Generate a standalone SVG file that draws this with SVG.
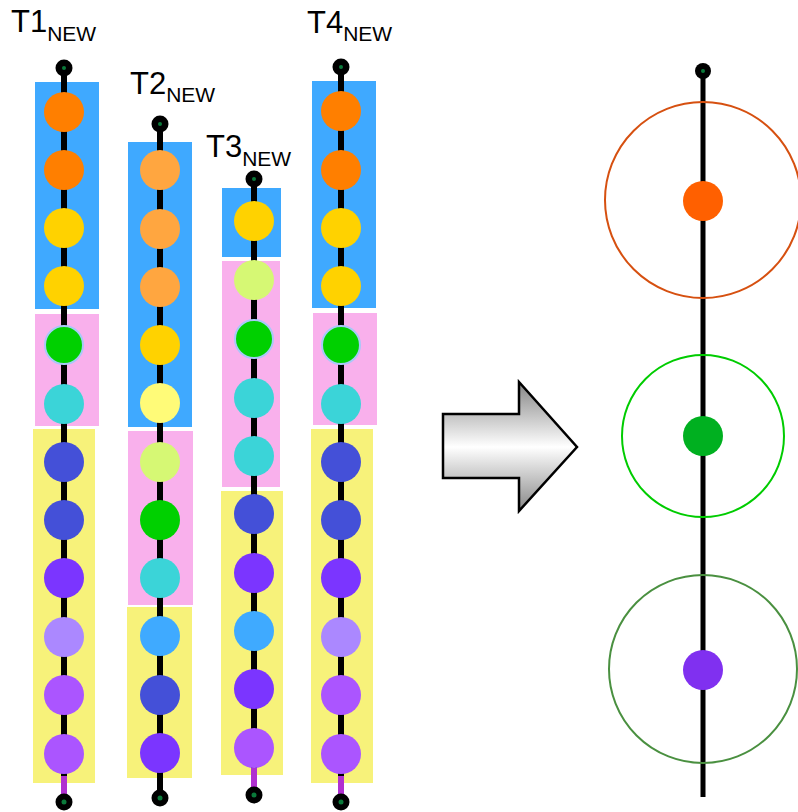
<svg xmlns="http://www.w3.org/2000/svg" width="798" height="812" viewBox="0 0 798 812">
<defs>
<style>
.lbl{font-family:"Liberation Sans",Arial,sans-serif;font-size:31px;fill:#000}
.sub{font-size:21px}
.stem{stroke:#000;stroke-width:6;fill:none}
.tail{stroke:#b030d0;stroke-width:6;fill:none}
.blue{fill:#3fa9ff}.pink{fill:#f9b0ec}.yel{fill:#f7f27a}
.end{fill:#000}.endc{fill:#0a7a3a}
.c-or{fill:#ff7f00}.c-lo{fill:#ffa640}.c-y{fill:#ffd200}.c-ly{fill:#fffb78}
.c-li{fill:#d6f874}.c-g{fill:#00d000;stroke:#a8c8f8;stroke-width:2}.c-g2{fill:#00d000}.c-cy{fill:#3bd4d8}
.c-db{fill:#4450d8}.c-p{fill:#7b35ff}.c-lv{fill:#ab88ff}.c-mp{fill:#ab55ff}.c-lb{fill:#3faaff}
</style>
<linearGradient id="ag" gradientUnits="userSpaceOnUse" x1="0" y1="382" x2="0" y2="512">
<stop offset="0" stop-color="#858585"/><stop offset="0.5" stop-color="#ffffff"/><stop offset="1" stop-color="#858585"/>
</linearGradient>
</defs>
<g id="labels">
<text class="lbl" x="11" y="32">T1<tspan class="sub" dy="8.5">NEW</tspan></text>
<text class="lbl" x="130" y="94">T2<tspan class="sub" dy="8">NEW</tspan></text>
<text class="lbl" x="206" y="157">T3<tspan class="sub" dy="8.5">NEW</tspan></text>
<text class="lbl" x="307" y="33">T4<tspan class="sub" dy="8">NEW</tspan></text>
</g>
<g id="backgrounds">
<rect class="blue" x="35" y="82" width="64" height="227"/>
<rect class="pink" x="35" y="314" width="64" height="112"/>
<rect class="yel" x="33" y="429" width="62" height="354"/>
<rect class="blue" x="128" y="142" width="64" height="285"/>
<rect class="pink" x="128" y="431" width="65" height="174"/>
<rect class="yel" x="127" y="607" width="65" height="171"/>
<rect class="blue" x="222" y="188" width="59" height="69"/>
<rect class="pink" x="222" y="261" width="58" height="226"/>
<rect class="yel" x="221" y="491" width="62" height="284"/>
<rect class="blue" x="312" y="81" width="64" height="227"/>
<rect class="pink" x="313" y="313" width="64" height="112"/>
<rect class="yel" x="311" y="429" width="62" height="354"/>
</g>
<g id="connectors">
<line class="stem" x1="64" y1="68" x2="64" y2="776"/>
<line class="tail" x1="64" y1="776" x2="64" y2="794"/>
<line class="stem" x1="160" y1="124" x2="160" y2="798"/>
<line class="stem" x1="254" y1="179" x2="254" y2="768"/>
<line class="tail" x1="254" y1="768" x2="254" y2="787"/>
<line class="stem" x1="341" y1="67" x2="341" y2="776"/>
<line class="tail" x1="341" y1="776" x2="341" y2="794"/>
<line x1="703" y1="71" x2="703" y2="797" stroke="#000" stroke-width="5"/>
</g>
<g id="T1">
<circle class="end" cx="64" cy="68" r="8.5"/><circle class="endc" cx="64" cy="68" r="2"/>
<circle class="c-or" cx="64" cy="112" r="20"/>
<circle class="c-or" cx="64" cy="170" r="20"/>
<circle class="c-y" cx="64" cy="228" r="20"/>
<circle class="c-y" cx="64" cy="286" r="20"/>
<circle class="c-g" cx="64" cy="345" r="19"/>
<circle class="c-cy" cx="64" cy="404" r="20"/>
<circle class="c-db" cx="64" cy="462" r="20"/>
<circle class="c-db" cx="64" cy="520" r="20"/>
<circle class="c-p" cx="64" cy="578" r="20"/>
<circle class="c-lv" cx="64" cy="637" r="20"/>
<circle class="c-mp" cx="64" cy="695" r="20"/>
<circle class="c-mp" cx="64" cy="754" r="20"/>
<circle class="end" cx="64" cy="802" r="8.5"/><circle class="endc" cx="64" cy="802" r="2.5"/>
</g>
<g id="T2">
<circle class="end" cx="160" cy="124" r="8.5"/><circle class="endc" cx="160" cy="124" r="2"/>
<circle class="c-lo" cx="160" cy="170" r="20"/>
<circle class="c-lo" cx="160" cy="229" r="20"/>
<circle class="c-lo" cx="160" cy="287" r="20"/>
<circle class="c-y" cx="160" cy="345" r="20"/>
<circle class="c-ly" cx="160" cy="403" r="20"/>
<circle class="c-li" cx="160" cy="462" r="20"/>
<circle class="c-g2" cx="160" cy="520" r="20"/>
<circle class="c-cy" cx="160" cy="578" r="20"/>
<circle class="c-lb" cx="160" cy="636" r="20"/>
<circle class="c-db" cx="160" cy="695" r="20"/>
<circle class="c-p" cx="160" cy="753" r="20"/>
<circle class="end" cx="160" cy="798" r="8.5"/><circle class="endc" cx="160" cy="798" r="2.5"/>
</g>
<g id="T3">
<circle class="end" cx="254" cy="179" r="8.5"/><circle class="endc" cx="254" cy="179" r="2"/>
<circle class="c-y" cx="254" cy="221" r="20"/>
<circle class="c-li" cx="254" cy="280" r="20"/>
<circle class="c-g" cx="254" cy="339" r="19"/>
<circle class="c-cy" cx="254" cy="398" r="20"/>
<circle class="c-cy" cx="254" cy="456" r="20"/>
<circle class="c-db" cx="254" cy="514" r="20"/>
<circle class="c-p" cx="254" cy="573" r="20"/>
<circle class="c-lb" cx="254" cy="631" r="20"/>
<circle class="c-p" cx="254" cy="689" r="20"/>
<circle class="c-mp" cx="254" cy="748" r="20"/>
<circle class="end" cx="254" cy="795" r="8.5"/><circle class="endc" cx="254" cy="795" r="2.5"/>
</g>
<g id="T4">
<circle class="end" cx="341" cy="67" r="8.5"/><circle class="endc" cx="341" cy="67" r="2"/>
<circle class="c-or" cx="341" cy="111" r="20"/>
<circle class="c-or" cx="341" cy="170" r="20"/>
<circle class="c-y" cx="341" cy="228" r="20"/>
<circle class="c-y" cx="341" cy="286" r="20"/>
<circle class="c-g" cx="341" cy="345" r="19"/>
<circle class="c-cy" cx="341" cy="404" r="20"/>
<circle class="c-db" cx="341" cy="462" r="20"/>
<circle class="c-db" cx="341" cy="520" r="20"/>
<circle class="c-p" cx="341" cy="578" r="20"/>
<circle class="c-lv" cx="341" cy="637" r="20"/>
<circle class="c-mp" cx="341" cy="695" r="20"/>
<circle class="c-mp" cx="341" cy="754" r="20"/>
<circle class="end" cx="341" cy="802" r="8.5"/><circle class="endc" cx="341" cy="802" r="2.5"/>
</g>
<g id="arrow">
<path d="M443,414 H519 V382 L577,447 L519,511 V478 H443 Z" fill="url(#ag)" stroke="#000" stroke-width="2.5" stroke-linejoin="miter"/>
</g>
<g id="result">
<circle class="end" cx="703" cy="71" r="8"/><circle class="endc" cx="703" cy="71" r="2"/>
<circle cx="703" cy="200" r="98" fill="none" stroke="#d65010" stroke-width="2"/>
<circle cx="703" cy="201" r="20" fill="#ff6000"/>
<circle cx="703" cy="436" r="81" fill="none" stroke="#00cc00" stroke-width="2"/>
<circle cx="703" cy="436" r="20" fill="#00b020"/>
<circle cx="703" cy="669" r="94" fill="none" stroke="#4a9040" stroke-width="2"/>
<circle cx="703" cy="670" r="20" fill="#8030f0"/>
</g>
</svg>
